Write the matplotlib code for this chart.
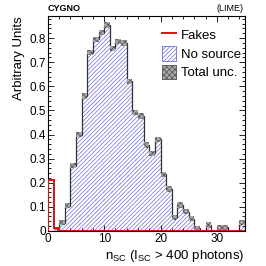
"""Recreate the CYGNO/LIME n_SC distribution plot."""

import matplotlib

matplotlib.use("Agg")
import matplotlib.pyplot as plt
import numpy as np
from matplotlib.patches import Patch
from matplotlib.lines import Line2D
from matplotlib.ticker import MultipleLocator

bin_edges = np.arange(0, 36)
no_source = [0.0, 0.005, 0.034, 0.104, 0.27, 0.40, 0.56, 0.74, 0.795, 0.823,
             0.855, 0.758, 0.786, 0.78, 0.62, 0.49, 0.477, 0.357, 0.322, 0.38,
             0.235, 0.174, 0.057, 0.108, 0.080, 0.05, 0.011, 0.0, 0.025, 0.0,
             0.015, 0.015, 0.0, 0.0, 0.034]
fakes = [0.21, 0.014, 0.0, 0.0, 0.0, 0.0, 0.0, 0.0, 0.0, 0.0,
         0.0, 0.0, 0.0, 0.0, 0.0, 0.0, 0.0, 0.0, 0.0, 0.0,
         0.0, 0.0, 0.0, 0.0, 0.0, 0.0, 0.0, 0.0, 0.0, 0.0,
         0.0, 0.0, 0.0, 0.0, 0.0]
unc_half = 0.011

plt.rcParams["font.family"] = ["Liberation Sans", "DejaVu Sans"]
plt.rcParams["hatch.linewidth"] = 0.5

fig = plt.figure(figsize=(2.66, 2.66), dpi=100, facecolor="white")
ax = fig.add_axes([0.180, 0.132, 0.741, 0.808])

ns = np.asarray(no_source)
fk = np.asarray(fakes)
left = bin_edges[:-1]

# hatched "no source" histogram
ax.stairs(ns, bin_edges, fill=True, facecolor="white", edgecolor="#6c6ce0",
          hatch="////////", linewidth=0)
ax.stairs(ns, bin_edges, color="#333333", linewidth=0.9)

# total uncertainty boxes
mask = ns > 0
ax.bar(left[mask], 2 * unc_half, bottom=ns[mask] - unc_half, width=1.0, align="edge",
       facecolor="#a8a8a8", edgecolor="#505050", hatch="xxxxxx", linewidth=0, zorder=3)

# fakes
ax.stairs(fk, bin_edges, color="#e01010", linewidth=1.4, baseline=None, zorder=4)
ax.plot([0.1, 0.1], [0, fk[0]], color="#e01010", linewidth=1.4, zorder=4)

ax.set_xlim(0, 35)
ax.set_ylim(0, 0.892)
ax.xaxis.set_major_locator(MultipleLocator(10))
ax.xaxis.set_minor_locator(MultipleLocator(2))
ax.yaxis.set_major_locator(MultipleLocator(0.1))
ax.yaxis.set_minor_locator(MultipleLocator(0.02))
ax.yaxis.set_major_formatter(matplotlib.ticker.FuncFormatter(lambda v, _: "0" if abs(v) < 1e-9 else f"{v:.1f}"))
ax.tick_params(which="both", direction="in", top=True, right=True, labelsize=8.5, pad=1.5)
ax.tick_params(which="major", length=4.5, width=0.6)
ax.tick_params(which="minor", length=2.5, width=0.6)
for s in ax.spines.values():
    s.set_linewidth(0.8)

ax.set_ylabel("Arbitrary Units", fontsize=9.5, loc="top", labelpad=3)
ax.set_xlabel(r"n$_{\mathregular{SC}}$ (I$_{\mathregular{SC}}$ > 400 photons)", fontsize=9.5,
              loc="right", labelpad=2)

fig.text(0.178, 0.968, "CYGNO", fontsize=6.5, fontweight="bold", ha="left", va="center")
fig.text(0.915, 0.968, "(LIME)", fontsize=6.5, ha="right", va="center")

handles = [
    Line2D([], [], color="#e01010", linewidth=1.4),
    Patch(facecolor="white", edgecolor="#6c6ce0", hatch="////////", linewidth=0.6),
    Patch(facecolor="#a8a8a8", edgecolor="#505050", hatch="xxxxxx", linewidth=0.6),
]
ax.legend(handles, ["Fakes", "No source", "Total unc."], loc="upper right", fontsize=9.5,
          frameon=False, handlelength=1.1, handleheight=1.35, handletextpad=0.35,
          labelspacing=0.3, borderaxespad=0.2, bbox_to_anchor=(1.02, 0.985))

fig.savefig("out.png", dpi=100, facecolor="white")
